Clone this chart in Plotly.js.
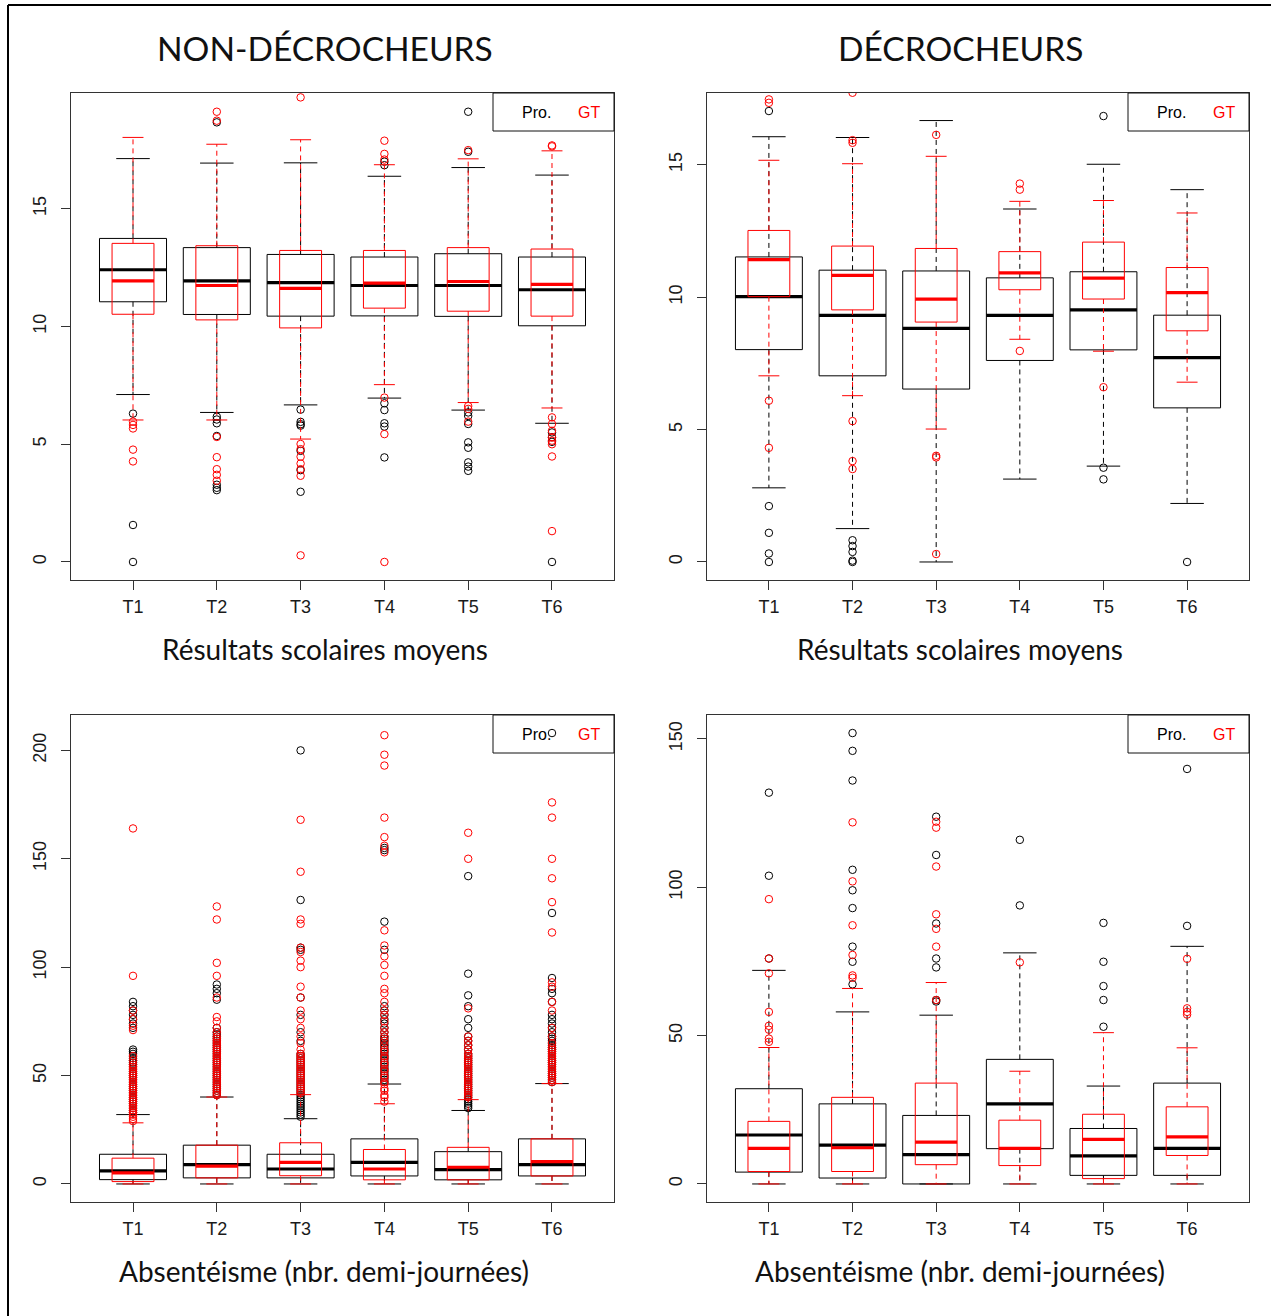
<!DOCTYPE html>
<html><head><meta charset="utf-8">
<script src="https://cdn.plot.ly/plotly-3.0.1.min.js"></script>
<style>html,body{margin:0;padding:0;background:#fff}#plot{width:1271px;height:1316px}</style>
</head><body><div id="plot"></div>
<script>
// ---------- DATA ----------
const cats = ['T1','T2','T3','T4','T5','T6'];
const seriesNames = ['Pro.','GT'];
const panelTitles = ['NON-DÉCROCHEURS','DÉCROCHEURS'];
const xTitles = ['Résultats scolaires moyens','Absentéisme (nbr. demi-journées)'];
const yTicksRes1 = [0,5,10,15];
const yTicksRes2 = [0,5,10,15];
const yTicksAbs1 = [0,50,100,150,200];
const yTicksAbs2 = [0,50,100,150];

// Non-décrocheurs, résultats scolaires — Pro.
const ndResPro_lo  = [7.11, 6.35, 6.67, 6.96, 6.45, 5.89];
const ndResPro_q1  = [11.05, 10.51, 10.44, 10.45, 10.43, 10.03];
const ndResPro_med = [12.41, 11.94, 11.86, 11.74, 11.74, 11.56];
const ndResPro_q3  = [13.74, 13.35, 13.06, 12.95, 13.09, 12.95];
const ndResPro_hi  = [17.13, 16.94, 16.95, 16.38, 16.75, 16.43];
const ndResPro_out = [[6.30, 1.57, 0],[18.67, 6.17, 6.05, 5.89, 5.35, 3.28, 3.15, 3.05],[6.47, 5.95, 5.85, 5.79, 4.72, 3.90, 2.98],[16.85, 17.0, 6.74, 6.45, 5.89, 5.75, 4.44],[19.12, 17.42, 6.35, 6.2, 5.86, 5.08, 4.85, 4.23, 4.05, 3.87],[0, 5.5, 5.3, 5.1]];
// Non-décrocheurs, résultats scolaires — GT
const ndResGT_lo  = [6.03, 6.03, 5.22, 7.53, 6.77, 6.54];
const ndResGT_q1  = [10.52, 10.28, 9.94, 10.78, 10.65, 10.44];
const ndResGT_med = [11.94, 11.74, 11.62, 11.84, 11.91, 11.79];
const ndResGT_q3  = [13.53, 13.43, 13.23, 13.23, 13.35, 13.29];
const ndResGT_hi  = [18.03, 17.74, 17.93, 16.87, 17.12, 17.46];
const ndResGT_out = [[5.96, 5.82, 5.67, 4.77, 4.27],[19.12, 18.74, 5.31, 4.45, 3.94, 3.70, 3.45],[19.73, 5.01, 4.79, 4.47, 4.18, 3.94, 3.66, 0.28],[17.89, 17.33, 17.09, 6.98, 5.43, 0],[17.49, 6.62, 6.50, 5.96],[17.69, 17.65, 6.14, 5.86, 5.57, 5.29, 5.15, 5.0, 4.48, 1.31]];

// Décrocheurs, résultats scolaires — Pro.
const dResPro_lo  = [2.80, 1.26, 0, 3.13, 3.62, 2.21];
const dResPro_q1  = [8.02, 7.03, 6.53, 7.61, 8.01, 5.82];
const dResPro_med = [10.02, 9.31, 8.82, 9.31, 9.52, 7.72];
const dResPro_q3  = [11.52, 11.02, 10.99, 10.73, 10.96, 9.32];
const dResPro_hi  = [16.06, 16.03, 16.67, 13.33, 15.02, 14.06];
const dResPro_out = [[17.03, 2.11, 1.10, 0.32, 0],[0.82, 0.6, 0.38, 0.05, 0],[],[],[16.84, 3.56, 3.12],[0]];
// Décrocheurs, résultats scolaires — GT
const dResGT_lo  = [7.03, 6.28, 5.02, 8.41, 7.96, 6.79];
const dResGT_q1  = [10.02, 9.52, 9.06, 10.28, 9.93, 8.73];
const dResGT_med = [11.42, 10.82, 9.93, 10.92, 10.72, 10.17];
const dResGT_q3  = [12.52, 11.93, 11.84, 11.72, 12.08, 11.12];
const dResGT_hi  = [15.17, 15.04, 15.32, 13.62, 13.65, 13.18];
const dResGT_out = [[17.47, 17.34, 6.09, 4.31],[17.72, 15.93, 15.83, 5.32, 3.81, 3.51],[16.13, 4.01, 3.95, 0.30],[14.29, 14.06, 7.97],[6.60],[]];

// Non-décrocheurs, absentéisme — Pro.
const ndAbsPro_lo  = [0, 0, 0, 0, 0, 0];
const ndAbsPro_q1  = [2.0, 2.8, 2.8, 3.7, 1.9, 3.7];
const ndAbsPro_med = [6.0, 8.9, 6.9, 10.0, 6.6, 8.9];
const ndAbsPro_q3  = [13.7, 17.9, 13.7, 20.8, 14.9, 20.8];
const ndAbsPro_hi  = [32.0, 40.1, 30.1, 46.1, 33.9, 46.3];
const ndAbsPro_out = [
  [33,34,35,36,37,38,39,40,41,42,43,44,45,46,47,48,49,50,51,52,53,54,55,56,57,58,59,60,61,62,72,74,76,78,80,82,84],
  [41,42,43,44,45,46,47,48,49,50,51,52,53,54,55,56,57,58,59,60,61,62,63,64,65,66,67,68,69,70,72,85,88,90,92],
  [31,32,33,34,35,36,37,38,39,40,41,42,43,44,45,46,47,48,49,50,51,52,53,54,55,56,57,58,59,60,66,70,78,86,108,109,131,200],
  [47,48,49,50,51,52,53,54,55,56,57,58,59,60,61,62,63,64,65,66,67,68,70,72,74,76,78,80,82,108,121,154,155],
  [35,36,37,38,39,40,41,42,43,44,45,46,47,48,49,50,51,52,53,54,55,56,57,58,59,60,62,64,66,68,72,76,82,87,97,142],
  [47,48,49,50,51,52,53,54,55,56,57,58,59,60,61,62,63,64,65,66,67,68,70,72,74,76,78,84,88,90,95,125,208]];
// Non-décrocheurs, absentéisme — GT
const ndAbsGT_lo  = [0, 0, 0, 0, 0, 0];
const ndAbsGT_q1  = [1.1, 2.8, 3.8, 1.9, 1.9, 3.7];
const ndAbsGT_med = [5.1, 8.2, 10.0, 6.9, 7.7, 10.3];
const ndAbsGT_q3  = [11.9, 17.9, 19.0, 15.9, 16.9, 20.8];
const ndAbsGT_hi  = [28.2, 40.1, 41.2, 37.0, 38.9, 46.3];
const ndAbsGT_out = [
  [29,30,31,32,33,34,35,36,37,38,39,40,41,42,43,44,45,46,47,48,49,50,51,52,53,54,55,57,59,71,73,76,80,96,164],
  [41,42,43,44,45,46,47,48,49,50,51,52,53,54,55,56,57,58,59,60,61,62,63,64,65,66,67,68,70,72,75,77,86,96,102,122,128],
  [42,43,44,45,46,47,48,49,50,51,52,53,54,55,56,57,58,59,60,62,65,68,72,76,80,86,91,100,103,107,109,120,122,144,168],
  [38,40,41,43,44,46,47,49,50,52,53,55,56,58,59,61,62,64,66,68,70,72,75,78,80,84,88,90,96,101,105,110,117,153,156,160,169,193,198,207],
  [40,41,42,43,44,45,46,47,48,49,50,51,52,53,54,55,56,57,58,59,60,62,64,66,68,81,150,162],
  [47,48,49,50,51,52,53,54,55,56,57,58,59,60,61,62,63,65,68,72,80,84,91,93,116,130,141,150,169,176]];

// Décrocheurs, absentéisme — Pro.
const dAbsPro_lo  = [0, 0, 0, 0, 0, 0];
const dAbsPro_q1  = [4.0, 2.0, 0, 11.9, 2.9, 2.9];
const dAbsPro_med = [16.5, 13.1, 9.9, 27.0, 9.5, 12.0];
const dAbsPro_q3  = [32.1, 27.0, 23.1, 42.0, 18.7, 34.0];
const dAbsPro_hi  = [72.0, 58.0, 56.9, 77.9, 33.0, 80.1];
const dAbsPro_out = [[131.9, 103.9, 76.0],[152.0, 146.0, 136.0, 105.9, 99.0, 93.0, 80.0, 74.9, 67.3],[123.8, 110.9, 87.8, 76.0, 73.0, 62.0, 61.5],[116.0, 93.9],[88.0, 74.9, 66.7, 62.0, 53.0],[139.9, 87.0]];
// Décrocheurs, absentéisme — GT
const dAbsGT_lo  = [0, 0, 0, 0, 0, 0];
const dAbsGT_q1  = [4.2, 4.2, 6.5, 6.2, 1.8, 9.6];
const dAbsGT_med = [12.0, 12.2, 14.1, 12.0, 15.0, 15.9];
const dAbsGT_q3  = [21.1, 29.2, 34.0, 21.5, 23.5, 26.0];
const dAbsGT_hi  = [46.0, 65.9, 67.9, 38.0, 51.0, 45.9];
const dAbsGT_out = [[96.0, 76.0, 71.0, 58.0, 53.3, 52.0, 49.0, 47.9],[121.9, 102.0, 87.2, 77.2, 70.3, 69.5],[122.1, 120.1, 107.0, 90.9, 86.0, 80.0, 62.0],[74.7],[],[75.9, 59.2, 58.0, 57.1]];

// ---------- DRAWING ----------
const W = 1271, H = 1316;
const px = x => x / W, py = y => 1 - y / H;
const BLACK = '#000000', RED = '#FF0000';

function mk(lo,q1,med,q3,hi,out){ return {lo,q1,med,q3,hi,out}; }

function series(ax, s, color, bw, cw, name) {
  const xa = 'x' + ax, ya = 'y' + ax;
  const bx=[],by=[],wx=[],wy=[],cx=[],cy=[],mx=[],my=[],ox=[],oy=[];
  for (let i = 0; i < cats.length; i++) {
    const p = i + 1;
    bx.push(p-bw,p+bw,p+bw,p-bw,p-bw,null); by.push(s.q1[i],s.q1[i],s.q3[i],s.q3[i],s.q1[i],null);
    wx.push(p,p,null,p,p,null); wy.push(s.q3[i],s.hi[i],null,s.q1[i],s.lo[i],null);
    cx.push(p-cw,p+cw,null,p-cw,p+cw,null); cy.push(s.hi[i],s.hi[i],null,s.lo[i],s.lo[i],null);
    mx.push(p-bw,p+bw,null); my.push(s.med[i],s.med[i],null);
    s.out[i].forEach(v => { ox.push(p); oy.push(v); });
  }
  const base = {xaxis: xa, yaxis: ya, showlegend: false, hoverinfo: 'skip', name: name};
  return [
    Object.assign({}, base, {type:'scatter', mode:'lines', x:wx, y:wy, line:{color, width:1, dash:'5px,4px'}}),
    Object.assign({}, base, {type:'scatter', mode:'lines', x:cx, y:cy, line:{color, width:1}}),
    Object.assign({}, base, {type:'scatter', mode:'lines', x:bx, y:by, line:{color, width:1}}),
    Object.assign({}, base, {type:'scatter', mode:'lines', x:mx, y:my, line:{color, width:3.2}}),
    Object.assign({}, base, {type:'scatter', mode:'markers', x:ox, y:oy, marker:{symbol:'circle-open', size:7.5, color, line:{width:1, color}}})
  ];
}

const panels = [
  {ax:'',  pro: mk(ndResPro_lo,ndResPro_q1,ndResPro_med,ndResPro_q3,ndResPro_hi,ndResPro_out), gt: mk(ndResGT_lo,ndResGT_q1,ndResGT_med,ndResGT_q3,ndResGT_hi,ndResGT_out), yr:[-0.766,19.916], tv: yTicksRes1, xd:[71,614], yd:[93,580], cx:325},
  {ax:'2', pro: mk(dResPro_lo,dResPro_q1,dResPro_med,dResPro_q3,dResPro_hi,dResPro_out), gt: mk(dResGT_lo,dResGT_q1,dResGT_med,dResGT_q3,dResGT_hi,dResGT_out), yr:[-0.681,17.711], tv: yTicksRes2, xd:[707,1249], yd:[93,580], cx:960},
  {ax:'3', pro: mk(ndAbsPro_lo,ndAbsPro_q1,ndAbsPro_med,ndAbsPro_q3,ndAbsPro_hi,ndAbsPro_out), gt: mk(ndAbsGT_lo,ndAbsGT_q1,ndAbsGT_med,ndAbsGT_q3,ndAbsGT_hi,ndAbsGT_out), yr:[-8.32,216.32], tv: yTicksAbs1, xd:[71,614], yd:[715,1202], cx:324},
  {ax:'4', pro: mk(dAbsPro_lo,dAbsPro_q1,dAbsPro_med,dAbsPro_q3,dAbsPro_hi,dAbsPro_out), gt: mk(dAbsGT_lo,dAbsGT_q1,dAbsGT_med,dAbsGT_q3,dAbsGT_hi,dAbsGT_out), yr:[-6.08,158.08], tv: yTicksAbs2, xd:[707,1249], yd:[715,1202], cx:960}
];

const traces = [];
const layout = {
  width: W, height: H, margin:{l:0,r:0,t:0,b:0}, paper_bgcolor:'#fff', plot_bgcolor:'#fff',
  showlegend:false, shapes:[], annotations:[]
};
const tickFont = {family:'Liberation Sans, Arial, sans-serif', size:18, color:'#1a1a1a'};

panels.forEach((P, k) => {
  traces.push(...series(P.ax, P.pro, BLACK, 0.4, 0.2, seriesNames[0]));
  traces.push(...series(P.ax, P.gt, RED, 0.25, 0.125, seriesNames[1]));
  layout['xaxis' + P.ax] = {
    domain:[px(P.xd[0]), px(P.xd[1])], range:[0.26, 6.74], anchor:'y'+P.ax,
    tickmode:'array', tickvals:[1,2,3,4,5,6], ticktext:cats, ticks:'outside', ticklen:9, tickcolor:'#333',
    showline:true, mirror:true, linecolor:'#333', linewidth:1, showgrid:false, zeroline:false,
    tickfont:tickFont, ticklabelstandoff:1, fixedrange:true
  };
  layout['yaxis' + P.ax] = {
    domain:[py(P.yd[1]), py(P.yd[0])], range:P.yr, anchor:'x'+P.ax,
    tickmode:'array', tickvals:P.tv, ticktext:P.tv.map(String), ticks:'outside', ticklen:9, tickcolor:'#333',
    tickangle:-90, showline:true, mirror:true, linecolor:'#333', linewidth:1, showgrid:false, zeroline:false,
    tickfont:tickFont, ticklabelstandoff:8, fixedrange:true
  };
  // legend box (top-right of each panel)
  const lx0 = P.xd[1] - 121, ly0 = P.yd[0], ly1 = P.yd[0] + 38;
  layout.shapes.push({type:'rect', xref:'paper', yref:'paper', x0:px(lx0), x1:px(P.xd[1]), y0:py(ly1), y1:py(ly0), line:{color:'#111', width:1}, fillcolor:'rgba(0,0,0,0)'});
  layout.annotations.push({xref:'paper', yref:'paper', x:px(lx0+43), y:py(ly0+19), text:seriesNames[0], showarrow:false, xanchor:'center', yanchor:'middle', font:{family:'Liberation Sans, Arial', size:16, color:BLACK}});
  layout.annotations.push({xref:'paper', yref:'paper', x:px(lx0+96), y:py(ly0+19), text:seriesNames[1], showarrow:false, xanchor:'center', yanchor:'middle', font:{family:'Liberation Sans, Arial', size:16, color:RED}});
  // x title
  layout.annotations.push({xref:'paper', yref:'paper', x:px(P.cx), y:py(P.yd[1] + 69), text:xTitles[k < 2 ? 0 : 1], showarrow:false, xanchor:'center', yanchor:'middle', font:{family:'Lato, Open Sans, sans-serif', size:28, color:'#111'}});
});
// panel titles
layout.annotations.push({xref:'paper', yref:'paper', x:px(325), y:py(48), text:panelTitles[0], showarrow:false, xanchor:'center', yanchor:'middle', font:{family:'Lato, Open Sans, sans-serif', size:33.5, color:'#111'}});
layout.annotations.push({xref:'paper', yref:'paper', x:px(960), y:py(48), text:panelTitles[1], showarrow:false, xanchor:'center', yanchor:'middle', font:{family:'Lato, Open Sans, sans-serif', size:33.5, color:'#111'}});
// outer frame (top and left edges)
layout.shapes.push({type:'line', xref:'paper', yref:'paper', x0:px(8), x1:1, y0:py(5), y1:py(5), line:{color:'#000', width:2}});
layout.shapes.push({type:'line', xref:'paper', yref:'paper', x0:px(8), x1:px(8), y0:py(5), y1:0, line:{color:'#000', width:2}});

Plotly.newPlot('plot', traces, layout, {staticPlot:true, displayModeBar:false});
</script></body></html>
